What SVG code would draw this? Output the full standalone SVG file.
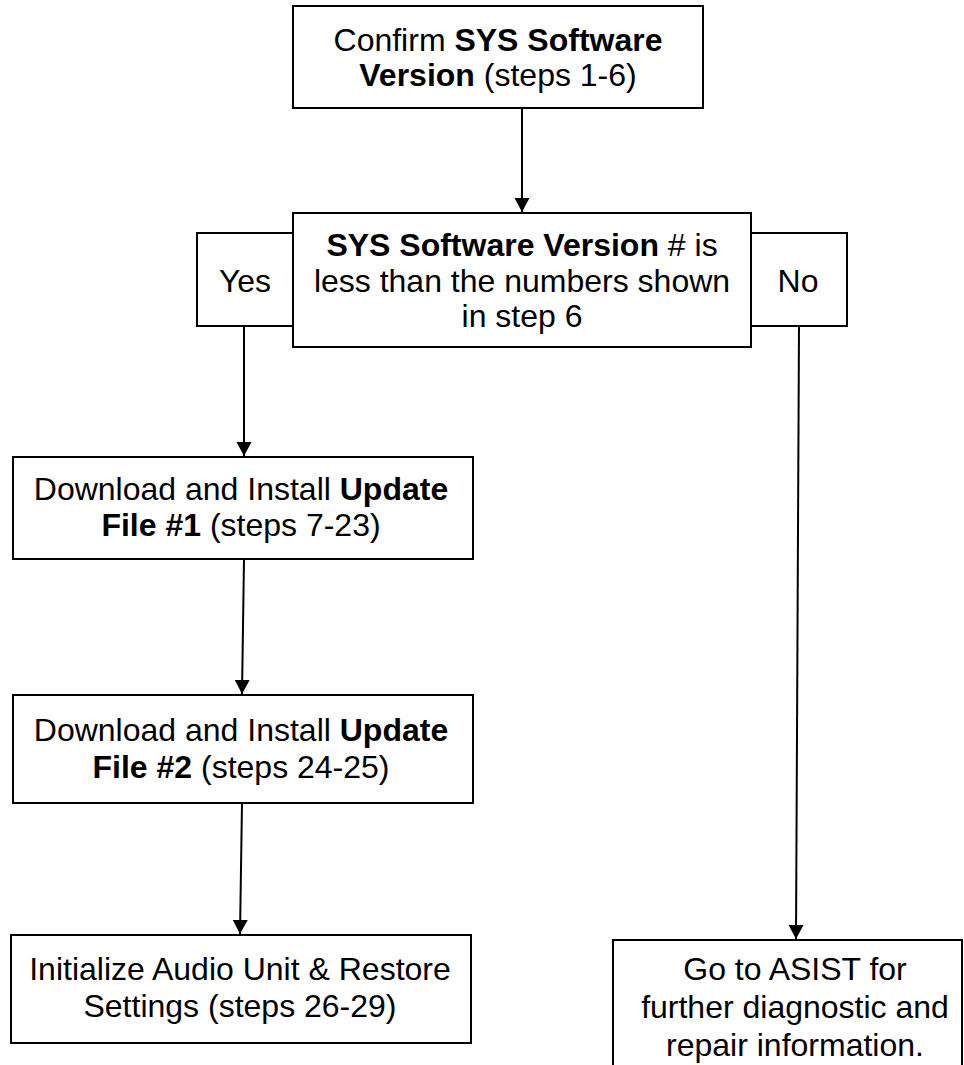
<svg xmlns="http://www.w3.org/2000/svg" width="964" height="1065" viewBox="0 0 964 1065">
<style>
.box{fill:#fff;stroke:#000;stroke-width:2}
.t{font-family:"Liberation Sans",Arial,sans-serif;font-size:32px;fill:#000;text-anchor:middle}
.b{font-weight:bold}
.c{fill:none;stroke:#000;stroke-width:2}
</style>
<defs>
<marker id="ah" markerUnits="userSpaceOnUse" markerWidth="16" markerHeight="16" refX="14" refY="7.5" orient="auto">
<path d="M0,0 L14,7.5 L0,15 Z" fill="#000"/>
</marker>
</defs>
<g id="connectors">
<line class="c" x1="522" y1="108" x2="522" y2="212" marker-end="url(#ah)"/>
<line class="c" x1="244" y1="326" x2="244" y2="456" marker-end="url(#ah)"/>
<line class="c" x1="244" y1="559" x2="242" y2="694" marker-end="url(#ah)"/>
<line class="c" x1="242" y1="803" x2="240" y2="934" marker-end="url(#ah)"/>
<line class="c" x1="799" y1="326" x2="796" y2="939" marker-end="url(#ah)"/>
</g>
<g id="confirm">
<rect class="box" x="293" y="6" width="410" height="102"/>
<text class="t" x="498" y="51">Confirm <tspan class="b">SYS Software</tspan></text>
<text class="t" x="498" y="86"><tspan class="b">Version</tspan> (steps 1-6)</text>
</g>
<g id="yes">
<rect class="box" x="197" y="233" width="96" height="93"/>
<text class="t" x="245" y="292">Yes</text>
</g>
<g id="no">
<rect class="box" x="751" y="233" width="96" height="93"/>
<text class="t" x="798" y="292">No</text>
</g>
<g id="decision">
<rect class="box" x="293" y="213" width="458" height="134"/>
<text class="t" x="522" y="256"><tspan class="b">SYS Software Version</tspan> # is</text>
<text class="t" x="522" y="292">less than the numbers shown</text>
<text class="t" x="522" y="327">in step 6</text>
</g>
<g id="update1">
<rect class="box" x="13" y="457" width="460" height="102"/>
<text class="t" x="241" y="500">Download and Install <tspan class="b">Update</tspan></text>
<text class="t" x="241" y="536"><tspan class="b">File #1</tspan> (steps 7-23)</text>
</g>
<g id="update2">
<rect class="box" x="13" y="695" width="460" height="108"/>
<text class="t" x="241" y="741">Download and Install <tspan class="b">Update</tspan></text>
<text class="t" x="241" y="778"><tspan class="b">File #2</tspan> (steps 24-25)</text>
</g>
<g id="initialize">
<rect class="box" x="11" y="935" width="460" height="108"/>
<text class="t" x="240" y="980">Initialize Audio Unit &amp; Restore</text>
<text class="t" x="240" y="1017">Settings (steps 26-29)</text>
</g>
<g id="asist">
<rect class="box" x="613" y="940" width="349" height="140"/>
<text class="t" x="795" y="980">Go to ASIST for</text>
<text class="t" x="795" y="1018">further diagnostic and</text>
<text class="t" x="795" y="1056">repair information.</text>
</g>
</svg>
